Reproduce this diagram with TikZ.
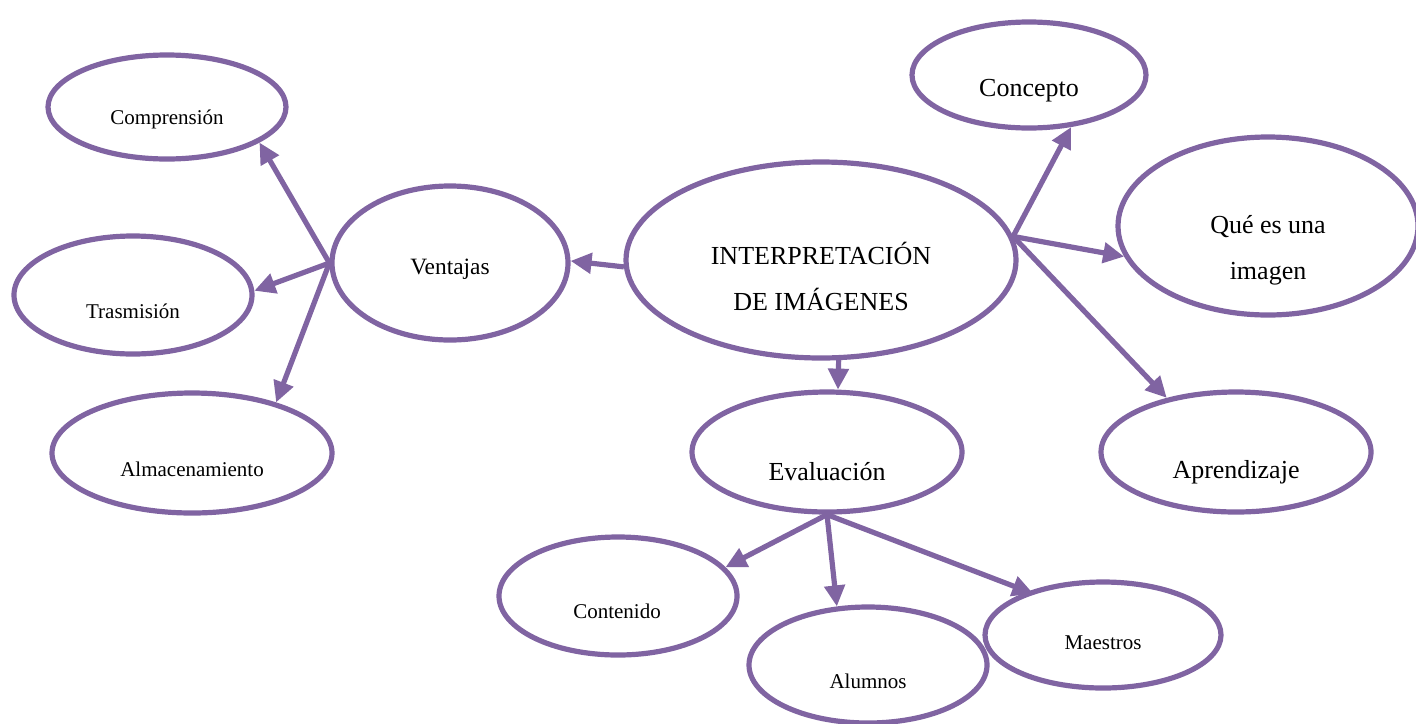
\documentclass[tikz,border=0pt]{standalone}
\usepackage{fontspec}
\setmainfont{Liberation Serif}
\usetikzlibrary{shapes.geometric,arrows.meta}
\definecolor{lila}{HTML}{8064A2}
\tikzset{
  oval/.style={ellipse, draw=lila, line width=2.6pt, inner sep=0pt, fill=white},
  lbl/.style={font=\fontsize{10.5}{12}\selectfont, align=center},
  big/.style={font=\fontsize{13}{23}\selectfont, align=center},
  conn/.style={draw=lila, line width=2.6pt, -{Triangle[length=10.5pt,width=10pt]}}
}
\begin{document}
\begin{tikzpicture}[x=0.5pt,y=-0.5pt]
\useasboundingbox (0,0) rectangle (1416,723);
\clip (0,0) rectangle (1416,723);
% ellipses
\node[oval, minimum width=119pt, minimum height=52pt] (comp) at (167,107) {};
\node[oval, minimum width=118pt, minimum height=77pt] (vent) at (450,263) {};
\node[oval, minimum width=119pt, minimum height=59pt] (tras) at (133,295) {};
\node[oval, minimum width=140pt, minimum height=60pt] (alma) at (192,453) {};
\node[oval, minimum width=195pt, minimum height=98pt] (interp) at (821,260) {};
\node[oval, minimum width=117pt, minimum height=53pt] (conc) at (1029,75) {};
\node[oval, minimum width=150pt, minimum height=89pt] (que) at (1268,226) {};
\node[oval, minimum width=135pt, minimum height=60pt] (apre) at (1236,452) {};
\node[oval, minimum width=135pt, minimum height=60pt] (eval) at (827,452) {};
\node[oval, minimum width=119pt, minimum height=59pt] (cont) at (618,596) {};
\node[oval, minimum width=119pt, minimum height=58pt] (alum) at (868,665) {};
\node[oval, minimum width=118pt, minimum height=53pt] (maes) at (1103,635) {};
% texts
\node[lbl] (tcomp) at (167,119) {Comprensión};
\node[lbl, font=\fontsize{11.7}{14}\selectfont] (tvent) at (450,269) {Ventajas};
\node[lbl] (ttras) at (133,311) {Trasmisión};
\node[lbl] (talma) at (192,469) {Almacenamiento};
\node[big] (tinterp) at (821,276) {INTERPRETACIÓN\\DE IMÁGENES};
\node[big] (tconc) at (1029,91) {Concepto};
\node[big] (tque) at (1268,250) {Qué es una\\imagen};
\node[big] (tapre) at (1236,472) {Aprendizaje};
\node[big] (teval) at (827,472) {Evaluación};
\node[lbl] (tcont) at (617,611) {Contenido};
\node[lbl] (talum) at (868,681) {Alumnos};
\node[lbl] (tmaes) at (1103,643) {Maestros};
% connectors
\draw[conn] (vent.180) -- (comp.-21);
\draw[conn] (vent.180) -- (tras.2);
\draw[conn] (vent.180) -- (alma.31);
\draw[conn] (interp.182) -- (vent.1);
\draw[conn] (interp.7) -- (conc.-51);
\draw[conn] (interp.7) -- (que.192);
\draw[conn] (interp.7) -- (apre.142);
\draw[conn] (interp.-80) -- (eval.80);
\draw[conn] (eval.-90) -- (cont.15);
\draw[conn] (eval.-90) -- (alum.118);
\draw[conn, shorten >=-3pt] (eval.-90) -- (maes.150);
\end{tikzpicture}
\end{document}
